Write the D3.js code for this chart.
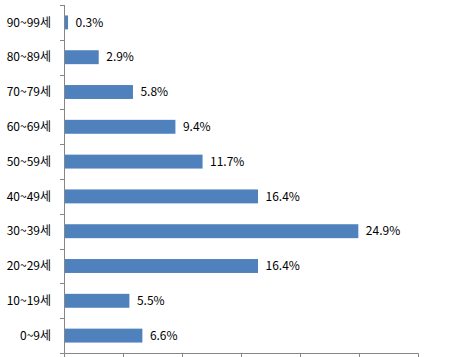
<!DOCTYPE html>
<html><head><meta charset="utf-8">
<script src="https://cdn.jsdelivr.net/npm/d3@7"></script>
<style>body{margin:0;background:#fff}svg{display:block}</style>
</head><body>
<script>
const categories = ["90~99세","80~89세","70~79세","60~69세","50~59세","40~49세","30~39세","20~29세","10~19세","0~9세"];
const values = [0.3, 2.9, 5.8, 9.4, 11.7, 16.4, 24.9, 16.4, 5.5, 6.6];
const xTicks = [0, 5, 10, 15, 20, 25, 30];

const W = 449, H = 357;
const svg = d3.select("body").append("svg").attr("width", W).attr("height", H);
const x = d3.scaleLinear().domain([0, 30]).range([64, 418]);
const y = d3.scaleBand().domain(categories).range([5, 353]).paddingInner(0.6).paddingOuter(0.3);
const font = "'Noto Sans CJK KR', 'DejaVu Sans', sans-serif";
const axisColor = "#868686";

svg.selectAll("rect.bar").data(values).join("rect")
  .attr("x", x(0) + 0.5)
  .attr("y", (d, i) => y(categories[i]))
  .attr("width", d => x(d) - x(0))
  .attr("height", y.bandwidth())
  .attr("fill", "#4F81BD");

svg.selectAll("text.val").data(values).join("text")
  .attr("x", d => x(d) + 8)
  .attr("y", (d, i) => y(categories[i]) + y.bandwidth() / 2)
  .attr("dy", "0.35em")
  .attr("font-family", font).attr("font-size", 12).attr("fill", "#000")
  .text(d => d.toFixed(1) + "%");

// y axis
const yStep = 348 / categories.length;
const yg = svg.append("g");
yg.append("line").attr("x1", 64.5).attr("x2", 64.5).attr("y1", 5).attr("y2", 353.5).attr("stroke", axisColor);
d3.range(categories.length + 1).forEach(i => {
  const yy = Math.round(5 + i * yStep) + 0.5;
  yg.append("line").attr("x1", 60).attr("x2", 64.5).attr("y1", yy).attr("y2", yy).attr("stroke", axisColor);
});
yg.selectAll("text").data(categories).join("text")
  .attr("x", 51).attr("y", d => y(d) + y.bandwidth() / 2)
  .attr("dy", "0.35em").attr("text-anchor", "end")
  .attr("font-family", font).attr("font-size", 12).attr("fill", "#000")
  .text(d => d);

// x axis
const xg = svg.append("g").attr("transform", "translate(0,353.5)");
xg.append("line").attr("x1", 64.5).attr("x2", 418.5).attr("stroke", axisColor);
xg.selectAll("line.t").data(xTicks).join("line")
  .attr("x1", d => Math.round(x(d)) + 0.5).attr("x2", d => Math.round(x(d)) + 0.5)
  .attr("y1", 0).attr("y2", 5).attr("stroke", axisColor);
</script>
</body></html>
